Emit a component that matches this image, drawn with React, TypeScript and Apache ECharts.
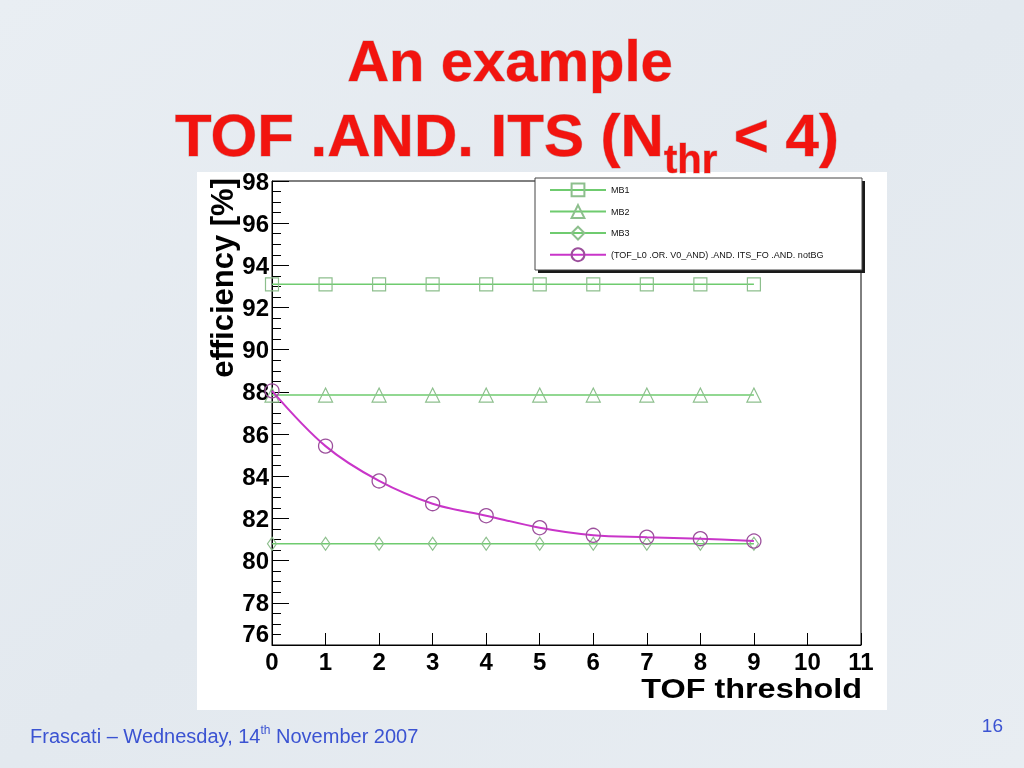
import React, { useEffect, useRef } from "react";
import * as echarts from "echarts";

// ---- data ----
const thresholds = [0, 1, 2, 3, 4, 5, 6, 7, 8, 9];
const mb1 = [93.1, 93.1, 93.1, 93.1, 93.1, 93.1, 93.1, 93.1, 93.1, 93.1];
const mb2 = [87.85, 87.85, 87.85, 87.85, 87.85, 87.85, 87.85, 87.85, 87.85, 87.85];
const mb3 = [80.8, 80.8, 80.8, 80.8, 80.8, 80.8, 80.8, 80.8, 80.8, 80.8];
const tofIts = [88.05, 85.43, 83.78, 82.7, 82.13, 81.56, 81.2, 81.11, 81.04, 80.93];

const seriesNames = ["MB1", "MB2", "MB3", "(TOF_L0 .OR. V0_AND) .AND. ITS_FO .AND. notBG"];
const titleLine1 = "An example";
const titleLine2a = "TOF .AND. ITS (N";
const titleLine2sub = "thr";
const titleLine2b = " < 4)";
const xAxisTitle = "TOF threshold";
const yAxisTitle = "efficiency [%]";
const footerA = "Frascati \u2013 Wednesday, 14";
const footerSup = "th";
const footerB = " November 2007";
const pageNumber = "16";

const FONT = '"Liberation Sans", Arial, Helvetica, sans-serif';
const GREEN_LINE = "#6fcb6f";
const GREEN_MARK = "#8dbf8d";
const PURPLE_LINE = "#c935c9";
const PURPLE_MARK = "#9c4f9c";
const RED = "#f2140f";
const BLUE = "#3b53d2";

function measure(text: string, font: string): number {
  const c = document.createElement("canvas").getContext("2d");
  if (!c) return text.length * 10;
  c.font = font;
  return c.measureText(text).width;
}

function pairs(ys: number[]) {
  return thresholds.map((t, i) => [t, ys[i]]);
}

export default function App() {
  const ref = useRef<HTMLDivElement>(null);

  useEffect(() => {
    if (!ref.current) return;
    const chart = echarts.init(ref.current, undefined, { renderer: "svg" });

    const f60 = `bold 60px ${FONT}`;
    const f40 = `bold 40px ${FONT}`;
    const wA = measure(titleLine2a, f60);
    const wSub = measure(titleLine2sub, f40);
    const line2x = 175;

    const footFont = `20px ${FONT}`;
    const supFont = `12px ${FONT}`;
    const wFA = measure(footerA, footFont);
    const wSup = measure(footerSup, supFont);
    const footX = 30;

    const titleText = (text: string, x: number, y: number, font: string, align: string) => ({
      type: "text",
      x,
      y,
      z: 21,
      style: {
        text,
        font,
        fill: RED,
        align,
        verticalAlign: "middle",
        stroke: "rgba(120,20,20,0.35)",
        lineWidth: 1,
      },
    });

    const option: any = {
      animation: false,
      grid: {
        left: 272,
        top: 181,
        right: 163,
        bottom: 123,
        show: true,
        borderColor: "#000",
        borderWidth: 1,
        backgroundColor: "transparent",
        z: 3,
      },
      xAxis: {
        type: "value",
        min: 0,
        max: 11,
        interval: 1,
        axisLine: { show: true, lineStyle: { color: "#000", width: 1 } },
        axisTick: { show: true, inside: true, length: 12, lineStyle: { color: "#000" } },
        axisLabel: {
          fontSize: 24,
          fontWeight: "bold",
          fontFamily: FONT,
          color: "#000",
          margin: 4,
        },
        splitLine: { show: false },
      },
      yAxis: {
        type: "value",
        min: 76,
        max: 98,
        interval: 2,
        axisLine: { show: true, lineStyle: { color: "#000", width: 1 } },
        axisTick: { show: true, inside: true, length: 17, lineStyle: { color: "#000" } },
        minorTick: { show: true, splitNumber: 4, length: 9, lineStyle: { color: "#000" } },
        axisLabel: {
          fontSize: 24,
          fontWeight: "bold",
          fontFamily: FONT,
          color: "#000",
          margin: 3,
          verticalAlignMinLabel: "bottom",
        },
        splitLine: { show: false },
      },
      legend: {
        orient: "vertical",
        left: 549,
        top: 182.5,
        z: 30,
        itemWidth: 56,
        itemHeight: 16,
        itemGap: 6.8,
        padding: 0,
        textStyle: { fontSize: 9, color: "#111", fontFamily: FONT },
        data: seriesNames,
      },
      series: [
        {
          name: seriesNames[0],
          type: "line",
          data: pairs(mb1),
          symbol: "rect",
          symbolSize: 13,
          clip: false,
          lineStyle: { color: GREEN_LINE, width: 1.5 },
          itemStyle: { color: "rgba(0,0,0,0)", borderColor: GREEN_MARK, borderWidth: 1.2 },
          z: 4,
        },
        {
          name: seriesNames[1],
          type: "line",
          data: pairs(mb2),
          symbol: "triangle",
          symbolSize: 14,
          clip: false,
          lineStyle: { color: GREEN_LINE, width: 1.5 },
          itemStyle: { color: "rgba(0,0,0,0)", borderColor: GREEN_MARK, borderWidth: 1.2 },
          z: 4,
        },
        {
          name: seriesNames[2],
          type: "line",
          data: pairs(mb3),
          symbol: "diamond",
          symbolSize: [9, 13],
          clip: false,
          lineStyle: { color: GREEN_LINE, width: 1.5 },
          itemStyle: { color: "rgba(0,0,0,0)", borderColor: GREEN_MARK, borderWidth: 1.2 },
          z: 4,
        },
        {
          name: seriesNames[3],
          type: "line",
          data: pairs(tofIts),
          symbol: "circle",
          symbolSize: 14,
          smooth: 0.35,
          clip: false,
          lineStyle: { color: PURPLE_LINE, width: 2 },
          itemStyle: { color: "rgba(0,0,0,0)", borderColor: PURPLE_MARK, borderWidth: 1.3 },
          z: 5,
        },
      ],
      graphic: [
        {
          type: "rect",
          z: -100,
          shape: { x: 0, y: 0, width: 1024, height: 768 },
          style: {
            fill: new echarts.graphic.LinearGradient(0, 0, 1, 1, [
              { offset: 0, color: "#e9eef3" },
              { offset: 0.5, color: "#e3e9ef" },
              { offset: 1, color: "#e8edf2" },
            ]),
          },
        },
        {
          type: "rect",
          z: -90,
          shape: { x: 197, y: 172, width: 690, height: 538 },
          style: { fill: "#ffffff" },
        },
        {
          type: "rect",
          z: 25,
          shape: { x: 538, y: 181, width: 327, height: 92 },
          style: { fill: "#1a1a1a" },
        },
        {
          type: "rect",
          z: 26,
          shape: { x: 535, y: 178, width: 327, height: 92 },
          style: { fill: "#ffffff", stroke: "#444", lineWidth: 1 },
        },
        titleText(titleLine1, 510, 60, `bold 58px ${FONT}`, "center"),
        titleText(titleLine2a, line2x, 135, f60, "left"),
        titleText(titleLine2sub, line2x + wA, 159, f40, "left"),
        titleText(titleLine2b, line2x + wA + wSub, 135, f60, "left"),
        {
          type: "text",
          x: 222,
          y: 178,
          rotation: Math.PI / 2,
          z: 20,
          style: {
            text: yAxisTitle,
            font: `bold 31px ${FONT}`,
            fill: "#000",
            align: "right",
            verticalAlign: "middle",
          },
        },
        {
          type: "text",
          x: 862,
          y: 688,
          z: 20,
          scaleX: 1.2,
          style: {
            text: xAxisTitle,
            font: `bold 27px ${FONT}`,
            fill: "#000",
            align: "right",
            verticalAlign: "middle",
          },
        },
        {
          type: "text",
          x: footX,
          y: 736,
          z: 20,
          style: { text: footerA, font: footFont, fill: BLUE, align: "left", verticalAlign: "middle" },
        },
        {
          type: "text",
          x: footX + wFA,
          y: 730,
          z: 20,
          style: { text: footerSup, font: supFont, fill: BLUE, align: "left", verticalAlign: "middle" },
        },
        {
          type: "text",
          x: footX + wFA + wSup,
          y: 736,
          z: 20,
          style: { text: footerB, font: footFont, fill: BLUE, align: "left", verticalAlign: "middle" },
        },
        {
          type: "text",
          x: 1003,
          y: 725,
          z: 20,
          style: { text: pageNumber, font: `19px ${FONT}`, fill: BLUE, align: "right", verticalAlign: "middle" },
        },
      ],
    };

    chart.setOption(option);
    return () => {
      chart.dispose();
    };
  }, []);

  return (
    <div
      ref={ref}
      style={{ position: "fixed", left: 0, top: 0, width: 1024, height: 768 }}
    />
  );
}
